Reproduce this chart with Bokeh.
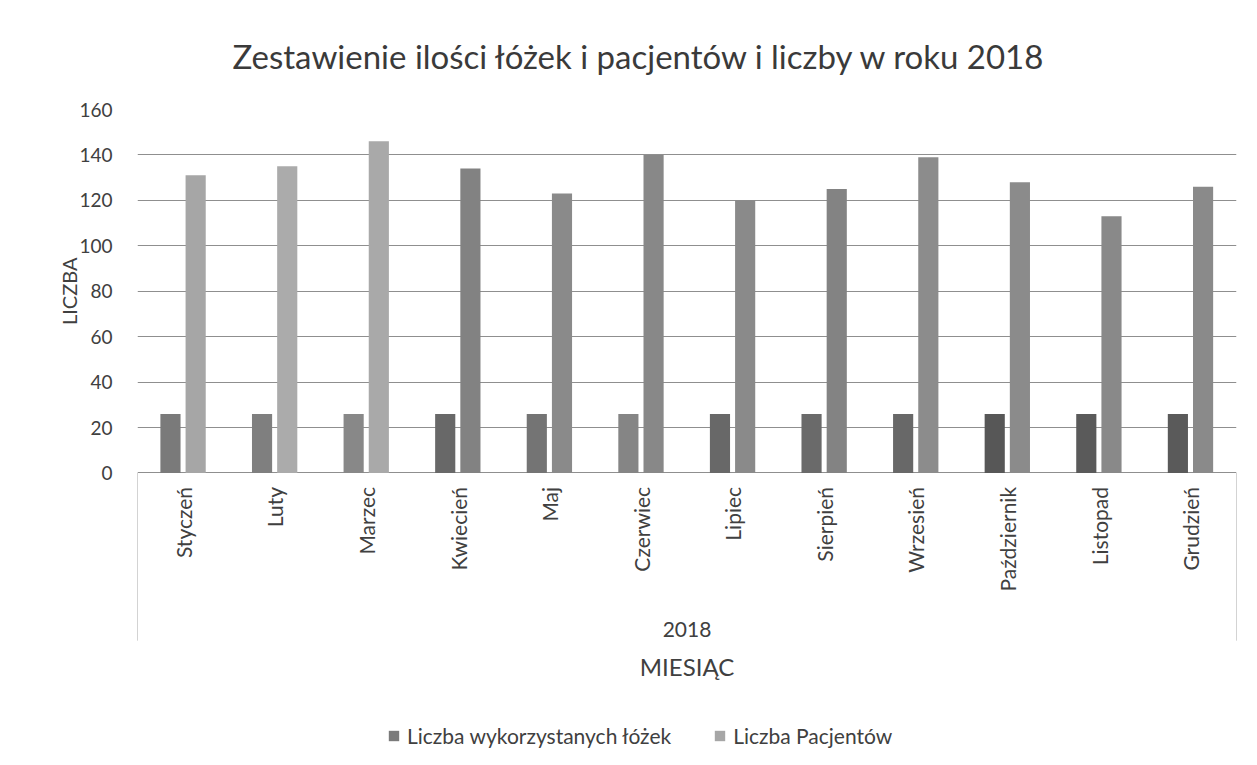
import math
from bokeh.plotting import figure
from bokeh.models import ColumnDataSource, FactorRange, Legend, LegendItem, FixedTicker, Title
from bokeh.transform import dodge
from bokeh.embed import file_html
from bokeh.resources import INLINE
from bokeh.core.properties import value

year = "2018"
months = ["Styczeń", "Luty", "Marzec", "Kwiecień", "Maj", "Czerwiec",
          "Lipiec", "Sierpień", "Wrzesień", "Październik", "Listopad", "Grudzień"]
beds = [26, 26, 26, 26, 26, 26, 26, 26, 26, 26, 26, 26]
patients = [131, 135, 146, 134, 123, 140, 120, 125, 139, 128, 113, 126]
y_ticks = [0, 20, 40, 60, 80, 100, 120, 140, 160]

bed_colors = ["#7a7a7a", "#7f7f7f", "#888888", "#686868", "#747474", "#858585",
              "#686868", "#6a6a6a", "#686868", "#575757", "#5a5a5a", "#5a5a5a"]
pat_colors = ["#a6a6a6", "#ababab", "#a9a9a9", "#828282", "#8a8a8a", "#888888",
              "#8a8a8a", "#838383", "#8c8c8c", "#8b8b8b", "#898989", "#8a8a8a"]

FONT = "Lato"
TXT = "#404040"

# layout (pixels)
W, H = 1257, 765
F_LEFT, F_RIGHT, F_TOP, F_BOTTOM = 137, 1236, 108, 760
ZERO_Y = 472                      # screen row of value 0
px_per_unit = (ZERO_Y - F_TOP) / y_ticks[-1]
y_start = -(F_BOTTOM - ZERO_Y) / px_per_unit
box_bottom = -(640 - ZERO_Y) / px_per_unit

factors = [(year, m) for m in months]
src = ColumnDataSource(dict(x=factors, beds=beds, patients=patients,
                            bc=bed_colors, pc=pat_colors, month=months))

p = figure(width=W, height=H,
           x_range=FactorRange(*factors, range_padding=0, factor_padding=0, group_padding=0),
           y_range=(y_start, y_ticks[-1]),
           x_axis_location=None,
           title="Zestawienie ilości łóżek i pacjentów i liczby w roku 2018",
           output_backend="svg", toolbar_location=None,
           min_border_left=F_LEFT, min_border_right=W - F_RIGHT,
           min_border_top=F_TOP, min_border_bottom=H - F_BOTTOM)

r1 = p.vbar(x=dodge("x", -0.14, range=p.x_range), top="beds", width=0.22,
            source=src, fill_color="bc", line_color=None)
r2 = p.vbar(x=dodge("x", 0.135, range=p.x_range), top="patients", width=0.22,
            source=src, fill_color="pc", line_color=None)

# category-axis frame lines (Excel multi-level axis box)
n = len(months)
p.segment(x0=[0, n], y0=[0, 0], x1=[0, n], y1=[box_bottom, box_bottom],
          line_color="#a8a8a8", line_width=1)

# month labels, year group label and x-axis title
p.text(x="x", y=0, text="month", source=src, angle=math.pi / 2,
       text_align="right", text_baseline="middle", y_offset=14,
       text_font=value(FONT), text_font_size="21px", text_color=TXT)
p.text(x=[year], y=[0], text=[year], text_align="center", text_baseline="middle",
       y_offset=157, text_font=value(FONT), text_font_size="21px", text_color=TXT)
p.text(x=[year], y=[0], text=["MIESIĄC"], text_align="center", text_baseline="middle",
       y_offset=194, text_font=value(FONT), text_font_size="24px", text_color=TXT)

p.title.align = "left"
p.title.offset = 95
p.title.standoff = 67
p.title.text_font = FONT
p.title.text_font_style = "normal"
p.title.text_font_size = "33px"
p.title.text_color = "#3a3a3a"

p.outline_line_color = None
p.xgrid.grid_line_color = None
p.ygrid.grid_line_color = "#8f8f8f"
p.ygrid.grid_line_width = 1

p.yaxis.ticker = FixedTicker(ticks=y_ticks)
p.yaxis.axis_line_color = None
p.yaxis.major_tick_line_color = None
p.yaxis.minor_tick_line_color = None
p.yaxis.major_label_text_font = FONT
p.yaxis.major_label_text_font_size = "19px"
p.yaxis.major_label_text_color = TXT
p.yaxis.major_label_standoff = 19

ylab = Title(text="LICZBA", align="right", offset=148,
             text_font=FONT, text_font_style="normal", text_font_size="20px",
             text_color=TXT)
try:
    ylab.standoff = -8
except Exception:
    ylab.standoff = 0
p.add_layout(ylab, "left")

legend = Legend(items=[LegendItem(label="Liczba wykorzystanych łóżek", renderers=[r1], index=0),
                       LegendItem(label="Liczba Pacjentów", renderers=[r2], index=0)],
                orientation="horizontal", location=(250, 12),
                label_text_font=FONT, label_text_font_size="21px", label_text_color=TXT,
                glyph_width=13, glyph_height=13, spacing=42, label_standoff=7,
                border_line_color=None, background_fill_alpha=0)
p.add_layout(legend, "center")

open("out.html", "w").write(file_html(p, INLINE))
